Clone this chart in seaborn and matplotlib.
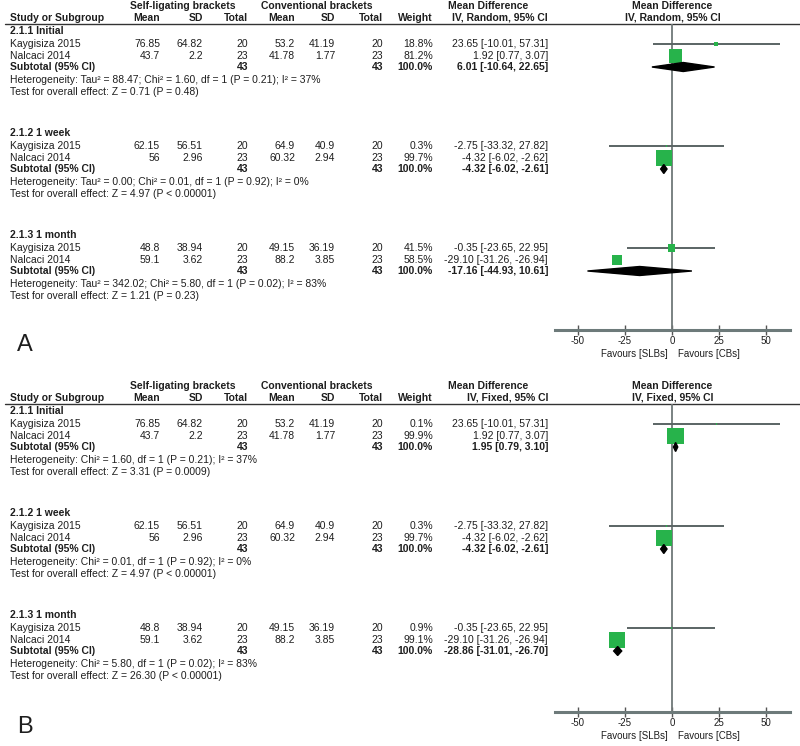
import matplotlib
matplotlib.use("Agg")
import matplotlib.pyplot as plt
import seaborn as sns
import pandas as pd
import numpy as np
from matplotlib.patches import Polygon

sns.set_theme(style="white")
plt.rcParams['font.family'] = ['Liberation Sans', 'DejaVu Sans']

# ---------------- data ----------------
subgroups = ["2.1.1 Initial", "2.1.2 1 week", "2.1.3 1 month"]
studies = ["Kaygisiza 2015", "Nalcaci 2014"]
slb_mean = [["76.85", "43.7"], ["62.15", "56"], ["48.8", "59.1"]]
slb_sd = [["64.82", "2.2"], ["56.51", "2.96"], ["38.94", "3.62"]]
slb_n = [["20", "23"], ["20", "23"], ["20", "23"]]
cb_mean = [["53.2", "41.78"], ["64.9", "60.32"], ["49.15", "88.2"]]
cb_sd = [["41.19", "1.77"], ["40.9", "2.94"], ["36.19", "3.85"]]
cb_n = [["20", "23"], ["20", "23"], ["20", "23"]]
sub_n = ["43", "43", "43"]
md = [[23.65, 1.92], [-2.75, -4.32], [-0.35, -29.10]]
ci_lo = [[-10.01, 0.77], [-33.32, -6.02], [-23.65, -31.26]]
ci_hi = [[57.31, 3.07], [27.82, -2.62], [22.95, -26.94]]

weights_A = [[18.8, 81.2], [0.3, 99.7], [41.5, 58.5]]
sub_md_A = [6.01, -4.32, -17.16]
sub_lo_A = [-10.64, -6.02, -44.93]
sub_hi_A = [22.65, -2.61, 10.61]
het_A = ["Heterogeneity: Tau² = 88.47; Chi² = 1.60, df = 1 (P = 0.21); I² = 37%",
         "Heterogeneity: Tau² = 0.00; Chi² = 0.01, df = 1 (P = 0.92); I² = 0%",
         "Heterogeneity: Tau² = 342.02; Chi² = 5.80, df = 1 (P = 0.02); I² = 83%"]
test_A = ["Test for overall effect: Z = 0.71 (P = 0.48)",
          "Test for overall effect: Z = 4.97 (P < 0.00001)",
          "Test for overall effect: Z = 1.21 (P = 0.23)"]

weights_B = [[0.1, 99.9], [0.3, 99.7], [0.9, 99.1]]
sub_md_B = [1.95, -4.32, -28.86]
sub_lo_B = [0.79, -6.02, -31.01]
sub_hi_B = [3.10, -2.61, -26.70]
het_B = ["Heterogeneity: Chi² = 1.60, df = 1 (P = 0.21); I² = 37%",
         "Heterogeneity: Chi² = 0.01, df = 1 (P = 0.92); I² = 0%",
         "Heterogeneity: Chi² = 5.80, df = 1 (P = 0.02); I² = 83%"]
test_B = ["Test for overall effect: Z = 3.31 (P = 0.0009)",
          "Test for overall effect: Z = 4.97 (P < 0.00001)",
          "Test for overall effect: Z = 26.30 (P < 0.00001)"]

x_ticks = [-50, -25, 0, 25, 50]
favours = ["Favours [SLBs]", "Favours [CBs]"]

# ---------------- layout ----------------
W, H = 800, 746
fig = plt.figure(figsize=(8, 7.46), dpi=100)
axt = fig.add_axes([0, 0, 1, 1])
axt.set_xlim(0, W)
axt.set_ylim(H, 0)
axt.axis('off')

TXT = "#1e1e1e"
FS = 7.5
GREEN = "#27b34b"
LINEC = "#5a6464"

def t(x, y, s, ha="left", bold=False, fs=FS):
    axt.text(x, y, s, ha=ha, va="center", fontsize=fs, color=TXT,
             fontweight="bold" if bold else "normal")

panels = [
    dict(off=0, axis_y=330, weights=weights_A, smd=sub_md_A, slo=sub_lo_A, shi=sub_hi_A,
         het=het_A, test=test_A, method="IV, Random, 95% CI", label="A"),
    dict(off=380, axis_y=712, weights=weights_B, smd=sub_md_B, slo=sub_lo_B, shi=sub_hi_B,
         het=het_B, test=test_B, method="IV, Fixed, 95% CI", label="B"),
]

XL, XR = 555, 790
XMIN, XMAX = -62.2, 62.8
sub_starts = [31, 133, 235]

for p in panels:
    off = p["off"]
    # headers
    t(183, 6 + off, "Self-ligating brackets", ha="center", bold=True)
    t(317, 6 + off, "Conventional brackets", ha="center", bold=True)
    t(488, 6 + off, "Mean Difference", ha="center", bold=True)
    t(672, 6 + off, "Mean Difference", ha="center", bold=True)
    hy = 18 + off
    t(10, hy, "Study or Subgroup", bold=True)
    for x, s in [(160, "Mean"), (203, "SD"), (248, "Total"), (295, "Mean"),
                 (335, "SD"), (383, "Total"), (433, "Weight"), (548, p["method"])]:
        t(x, hy, s, ha="right", bold=True)
    t(673, hy, p["method"], ha="center", bold=True)
    axt.plot([5, W], [24 + off, 24 + off], color="#333333", lw=1.0)

    # forest axes
    top_px, bot_px = 24 + off, p["axis_y"]
    ax = fig.add_axes([XL / W, 1 - bot_px / H, (XR - XL) / W, (bot_px - top_px) / H])
    ax.set_facecolor("none")
    ax.set_xlim(XMIN, XMAX)
    ax.set_ylim(bot_px, top_px)

    rows = []
    for g in range(3):
        y0 = sub_starts[g] + off
        t(10, y0, subgroups[g], bold=True)
        for i in range(2):
            y = y0 + 13 + 12 * i
            w = p["weights"][g][i]
            t(10, y, studies[i])
            t(160, y, slb_mean[g][i], ha="right")
            t(203, y, slb_sd[g][i], ha="right")
            t(248, y, slb_n[g][i], ha="right")
            t(295, y, cb_mean[g][i], ha="right")
            t(335, y, cb_sd[g][i], ha="right")
            t(383, y, cb_n[g][i], ha="right")
            t(433, y, f"{w:.1f}%", ha="right")
            t(548, y, f"{md[g][i]:.2f} [{ci_lo[g][i]:.2f}, {ci_hi[g][i]:.2f}]", ha="right")
            side_px = 0.155 * w + 1.0
            rows.append(dict(md=md[g][i], lo=ci_lo[g][i], hi=ci_hi[g][i], y=y,
                             area=(side_px * 0.72) ** 2))
        ys = y0 + 36
        t(10, ys, "Subtotal (95% CI)", bold=True)
        t(248, ys, sub_n[g], ha="right", bold=True)
        t(383, ys, sub_n[g], ha="right", bold=True)
        t(433, ys, "100.0%", ha="right", bold=True)
        t(548, ys, f"{p['smd'][g]:.2f} [{p['slo'][g]:.2f}, {p['shi'][g]:.2f}]", ha="right", bold=True)
        t(10, y0 + 49, p["het"][g])
        t(10, y0 + 61, p["test"][g])
        # diamond
        lo, mid, hi = p["slo"][g], p["smd"][g], p["shi"][g]
        dh = 4.5
        ax.add_patch(Polygon([[lo, ys], [mid, ys - dh], [hi, ys], [mid, ys + dh]],
                             closed=True, color="black", zorder=4))

    df = pd.DataFrame(rows)
    ax.axvline(0, color="#707878", lw=1.3, zorder=1)
    ax.hlines(df["y"], df["lo"], df["hi"], color=LINEC, lw=1.4, zorder=2)
    amax = 400.0
    sns.scatterplot(data=df, x="md", y="y", size="area", sizes=(0, amax),
                    size_norm=(0, amax), marker="s", color=GREEN, edgecolor="none",
                    legend=False, ax=ax, zorder=3)
    for s in ["left", "right", "top"]:
        ax.spines[s].set_visible(False)
    ax.spines["bottom"].set_color("#6d7a7a")
    ax.spines["bottom"].set_linewidth(2.2)
    ax.set_xticks(x_ticks)
    ax.set_xticklabels([str(v) for v in x_ticks])
    ax.tick_params(axis="x", direction="inout", length=7, width=1.0, color="#555555",
                   labelsize=7, labelcolor=TXT, pad=1, bottom=True)
    ax.set_yticks([])
    ax.set_xlabel("")
    ax.set_ylabel("")

    fy = p["axis_y"] + 24
    t(668, fy, favours[0], ha="right", fs=7)
    t(678, fy, favours[1], ha="left", fs=7)
    axt.text(25, p["axis_y"] + 15, p["label"], ha="center", va="center",
             fontsize=17, color=TXT)

fig.savefig("out.png", dpi=100)
